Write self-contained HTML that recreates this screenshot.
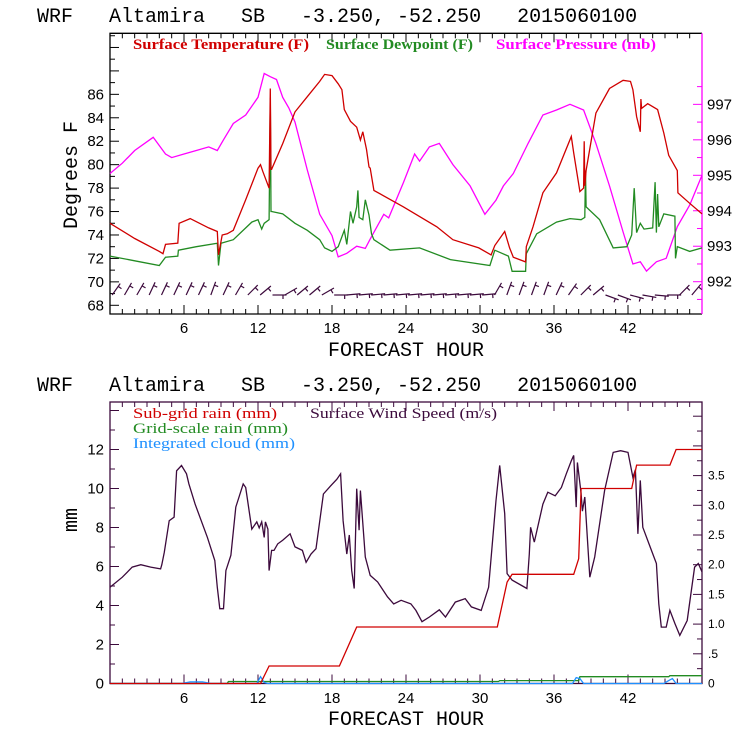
<!DOCTYPE html>
<html><head><meta charset="utf-8"><style>
html,body{margin:0;padding:0;background:#fff;}
svg{display:block;}
.t{font-family:"Liberation Mono",monospace;font-size:20px;fill:#000;}
.tk{font-family:"Liberation Sans",sans-serif;font-size:15px;fill:#000;}
.lg{font-family:"Liberation Serif",serif;font-size:15px;font-weight:bold;}
.lg2{font-family:"Liberation Serif",serif;font-size:15px;}
</style></head><body>
<svg id="chart" width="740" height="740" viewBox="0 0 740 740" xmlns="http://www.w3.org/2000/svg">
<rect width="740" height="740" fill="#fff"/>
<text class="t" x="37" y="22" xml:space="preserve">WRF   Altamira   SB   -3.250, -52.250   2015060100</text>
<text class="t" x="37" y="391" xml:space="preserve">WRF   Altamira   SB   -3.250, -52.250   2015060100</text>
<g id="topPanel"></g>
<g id="botPanel"></g>
</svg>
<script>
// ---------- top panel data ----------
const tempHours=[0,2,4,4.3,4.5,5.5,5.6,6.5,8,8.7,8.8,9.1,9.5,10,11,12,12.2,12.4,12.9,13,13.05,13.1,14,15,16,17,17.4,18,18.5,18.8,19,19.5,20,20.3,20.5,20.8,21,21.1,21.4,23.8,26.5,27.8,29.9,30.9,31.2,32,32.4,32.7,33.7,33.75,34.3,35.1,36.2,37.4,37.6,38.1,38.4,38.45,38.5,38.6,39.4,40.5,41.6,42.2,42.4,42.7,43,43.05,43.1,43.6,44.4,44.9,45.3,46,46.05,47,48];
const tempVals=[75.0,73.7,72.6,72.4,73.2,73.3,75.0,75.4,74.6,74.3,72.3,74.0,74.1,74.4,77.0,79.7,80.0,79.4,78.0,86.5,79.6,79.6,81.8,84.5,85.8,87.1,87.7,87.6,86.9,86.4,84.7,83.7,83.2,82.1,82.8,81.3,79.8,79.7,77.8,76.4,74.7,73.6,72.9,72.3,73.1,74.3,72.9,72.1,71.7,73.0,74.7,77.6,79.3,82.4,81.0,77.7,78.0,82.0,78.2,79.5,84.4,86.5,87.2,87.1,86.4,84.1,82.8,85.6,84.8,85.2,84.7,82.7,80.8,79.5,77.6,76.7,75.8];
const dewHours=[0,2,4,4.5,5.5,5.55,7,8.7,8.8,9.0,10,11.5,12,12.3,12.5,12.9,13,13.05,13.1,14,15,16,17,17.4,18,18.5,19,19.2,19.5,19.7,20,20.1,20.2,20.5,20.7,21,21.2,21.4,22.7,25.1,27.6,30.8,31.2,32.3,32.6,33.7,33.75,34.6,36.2,37.3,38.2,38.5,38.55,38.6,39.7,40.8,41.9,42.3,42.5,42.7,43,43.3,44,44.2,44.3,44.4,44.5,44.9,45.8,45.85,46,47,48];
const dewVals=[72.2,71.8,71.4,72.1,72.2,72.7,73.0,73.3,71.4,73.3,73.6,75.1,75.3,74.5,75.0,75.3,85.7,76.0,76.0,75.8,75.0,74.4,73.6,72.9,72.6,73.0,74.4,73.2,76.0,75.0,76.4,77.8,75.5,75.3,77.0,75.7,74.1,73.6,72.7,72.9,71.9,71.4,72.7,72.2,70.9,70.9,72.4,74.1,75.1,75.4,75.3,75.5,79.5,76.4,75.3,72.9,73.0,74.0,78.0,74.2,75.0,74.5,74.6,78.5,74.2,77.5,74.7,75.8,75.6,72.0,73.0,72.6,72.9];
const presHours=[0,1,2,3.5,4.5,5,6,7,8,8.7,9.2,10,11,12,12.5,13,13.5,14,14.5,15,16,17,18,18.5,19.2,20,20.7,21.1,22.2,22.6,23.8,24.7,25.1,25.9,26.7,27.8,29.2,30.4,31.3,31.9,32.7,33.9,35.1,36.2,37.3,38.4,39.4,40.5,41.6,42.4,43.0,43.5,44.3,45.1,46.0,47.0,48];
const presVals=[995.05,995.34,995.7,996.07,995.6,995.5,995.6,995.7,995.8,995.7,996.0,996.46,996.7,997.2,997.87,997.78,997.7,997.2,996.9,996.5,995.15,993.9,993.3,992.7,992.8,993.0,992.94,993.2,993.9,993.8,994.8,995.6,995.4,995.8,995.9,995.3,994.7,993.9,994.3,994.7,995.05,995.9,996.7,996.84,997.0,996.84,995.9,994.7,993.4,992.5,992.56,992.3,992.56,992.66,993.55,994.16,995.0];
const barbAngles=[55,60,60,65,65,65,65,65,70,65,60,45,40,0,30,40,40,30,0,5,5,5,5,5,5,5,5,5,5,5,5,60,70,70,70,70,65,55,45,40,-20,-20,-15,-10,-5,0,45,50];
const tempTicks=[68,70,72,74,76,78,80,82,84,86];
const presTicks=[992,993,994,995,996,997];
const hourTicks=[6,12,18,24,30,36,42];
// ---------- bottom panel data ----------
const windHours=[0,1,1.8,2.5,3.3,4.1,4.2,4.4,4.8,5.2,5.4,5.8,6.2,6.4,6.9,7.9,8.5,8.7,8.9,9.2,9.4,9.8,10.2,10.8,11.0,11.5,11.9,12.1,12.3,12.5,12.6,12.8,12.9,13.1,13.3,13.6,14.0,14.6,15.0,15.6,15.9,16.3,16.7,17.3,17.9,18.4,18.7,18.9,19.2,19.4,19.6,19.8,20.0,20.2,20.3,20.7,21.1,21.7,22.5,23.0,23.6,24.4,24.8,25.3,25.9,26.7,27.2,28.0,28.8,29.3,30.1,30.7,31.3,31.6,32.0,32.2,32.6,33.8,34.0,34.1,34.4,35.1,35.5,36.1,36.6,37.0,37.4,37.6,37.8,37.9,38.2,38.3,38.5,38.9,39.3,40.1,40.8,41.4,42.0,42.4,42.6,42.8,43.0,43.2,43.7,44.3,44.5,44.7,45.1,45.4,45.8,46.2,46.8,47.4,47.7,48];
const windVals=[1.62,1.79,1.96,2.0,1.96,1.93,2.0,2.21,2.74,2.80,3.58,3.67,3.53,3.36,3.02,2.46,2.07,1.62,1.26,1.26,1.9,2.16,2.97,3.36,3.30,2.60,2.72,2.62,2.72,2.46,2.72,2.60,1.9,2.24,2.24,2.35,2.41,2.52,2.30,2.24,2.04,2.18,2.27,3.19,3.33,3.44,3.53,2.74,2.18,2.5,1.9,1.6,3.28,2.58,3.25,2.13,1.82,1.71,1.46,1.34,1.40,1.34,1.23,1.04,1.12,1.24,1.12,1.37,1.43,1.29,1.23,1.62,3.08,3.67,2.86,1.85,1.74,1.6,2.18,2.63,2.38,3.02,3.22,3.16,3.30,3.53,3.75,3.84,2.97,3.72,3.2,2.9,3.14,1.79,2.13,3.25,3.89,3.92,3.89,3.47,3.6,2.52,3.42,2.63,2.35,2.02,1.34,0.95,0.95,1.23,1.01,0.81,1.06,1.96,2.02,1.88];
const subHours=[0,12.2,12.9,18.6,20.0,31.4,32.2,32.6,37.6,38.0,38.2,42.3,42.7,45.4,45.9,48];
const subVals=[0,0,0.9,0.9,2.9,2.9,5.2,5.6,5.6,6.4,10.0,10.0,11.2,11.2,12.0,12.0];
const gridHours=[0,9.5,9.6,31.5,31.6,38.0,38.1,45.3,45.4,48];
const gridVals=[0,0,0.1,0.1,0.15,0.15,0.35,0.35,0.4,0.4];
const cloudHours=[0,5.8,6.5,7.5,8.2,9,11.9,12.2,12.5,12.8,37.5,37.8,38.1,38.4,44.9,45.3,45.6,45.9,48];
const cloudVals=[0,0,0.08,0.08,0,0,0,0.35,0.05,0,0,0.3,0.25,0,0,0.15,0.25,0,0];
const mmTicks=[0,2,4,6,8,10,12];
const windTicks=[0,0.5,1.0,1.5,2.0,2.5,3.0,3.5];
const windTickLabels=["0",".5","1.0","1.5","2.0","2.5","3.0","3.5"];

const NS="http://www.w3.org/2000/svg";
function mk(parent,tag,attrs){const e=document.createElementNS(NS,tag);for(const k in attrs)e.setAttribute(k,attrs[k]);parent.appendChild(e);return e;}
const X0=110,X1=702;
const xs=h=>X0+h*(X1-X0)/48;

const topG=document.getElementById('topPanel');
const T_Y0=33.3,T_Y1=314;
const yT=t=>305.3-(t-68)*11.72;
const yP=p=>281.7-(p-992)*35.47;
function poly(g,hs,vs,fx,fy,col,name){
  const pts=hs.map((h,i)=>fx(h).toFixed(1)+','+fy(vs[i]).toFixed(1)).join(' ');
  const e=mk(g,'polyline',{points:pts,fill:'none',stroke:col,'stroke-width':1.3});
  
  
  return e;
}
let fr=mk(topG,'path',{d:`M${X1},${T_Y0}H${X0}V${T_Y1}H${X1}`,fill:'none',stroke:'#000','stroke-width':1.3});


let ra=mk(topG,'line',{x1:X1,y1:T_Y0,x2:X1,y2:T_Y1,stroke:'#ff00ff','stroke-width':1.3});


for(let h=1;h<48;h++){const x=xs(h),L=h%6===0?9:5;
  mk(topG,'line',{x1:x,y1:T_Y1,x2:x,y2:T_Y1-L,stroke:'#000'});
  mk(topG,'line',{x1:x,y1:T_Y0,x2:x,y2:T_Y0+L,stroke:'#000'});}
hourTicks.forEach(h=>{const t=mk(topG,'text',{x:xs(h),y:333,'text-anchor':'middle',class:'tk'});t.textContent=h;
  
  });
for(let v=68;v<=91;v++){const y=yT(v),L=v%2===0?9:5;mk(topG,'line',{x1:X0,y1:y,x2:X0+L,y2:y,stroke:'#000'});}
tempTicks.forEach(v=>{const t=mk(topG,'text',{x:104,y:yT(v)+5,'text-anchor':'end',class:'tk'});t.textContent=v;
  
  });
for(let v=991.5;v<=997.9;v+=0.5){const y=yP(v),L=Math.abs(v%1)<0.01?9:5;mk(topG,'line',{x1:X1,y1:y,x2:X1-L,y2:y,stroke:'#ff00ff'});}
presTicks.forEach(v=>{const t=mk(topG,'text',{x:707,y:yP(v)+5,class:'tk'});t.textContent=v;
  
  });
let yt=mk(topG,'text',{x:0,y:0,class:'t',transform:'translate(77,175) rotate(-90)','text-anchor':'middle'});yt.textContent='Degrees F';


let xt=mk(topG,'text',{x:406,y:356,class:'t','text-anchor':'middle'});xt.textContent='FORECAST HOUR';


[['Surface Temperature (F)',133,176,'#d00000','legend-temperature'],['Surface Dewpoint (F)',326,147,'#228b22','legend-dewpoint'],['Surface Pressure (mb)',496,160,'#ff00ff','legend-pressure']].forEach(a=>{
  const t=mk(topG,'text',{x:a[1],y:49,class:'lg',fill:a[3],textLength:a[2],lengthAdjust:'spacingAndGlyphs'});t.textContent=a[0];
  
  });
poly(topG,presHours,presVals,xs,yP,'#ff00ff','pressure-line');
poly(topG,dewHours,dewVals,xs,yT,'#228b22','dewpoint-line');
poly(topG,tempHours,tempVals,xs,yT,'#d00000','temperature-line');
barbAngles.forEach((a,i)=>{
  const x=xs(i+0.5)-4,y=295,r=a*Math.PI/180,L=14;
  const x2=x+L*Math.cos(r),y2=y-L*Math.sin(r);
  const g=mk(topG,'g',{stroke:'#3c0a3c','stroke-width':1.2});
  
  
  mk(g,'line',{x1:x,y1:y,x2:x2,y2:y2});
  const bx=x+0.75*L*Math.cos(r),by=y-0.75*L*Math.sin(r);
  mk(g,'line',{x1:bx,y1:by,x2:bx+4*Math.sin(r),y2:by+4*Math.cos(r)});
});

const botG=document.getElementById('botPanel');
const B_Y0=402,B_Y1=683.5;
const yM=m=>B_Y1-m*19.5;
const yW=w=>B_Y1-w*59.4;
fr=mk(botG,'rect',{x:X0,y:B_Y0,width:X1-X0,height:B_Y1-B_Y0,fill:'none',stroke:'#3c0a3c','stroke-width':1.3});


for(let h=1;h<48;h++){const x=xs(h),L=h%6===0?9:5;
  mk(botG,'line',{x1:x,y1:B_Y1,x2:x,y2:B_Y1-L,stroke:'#3c0a3c'});
  mk(botG,'line',{x1:x,y1:B_Y0,x2:x,y2:B_Y0+L,stroke:'#3c0a3c'});}
hourTicks.forEach(h=>{const t=mk(botG,'text',{x:xs(h),y:703,'text-anchor':'middle',class:'tk'});t.textContent=h;
  
  });
for(let v=1;v<=14;v++){const y=yM(v),L=v%2===0?9:5;mk(botG,'line',{x1:X0,y1:y,x2:X0+L,y2:y,stroke:'#3c0a3c'});}
mmTicks.forEach(v=>{const t=mk(botG,'text',{x:104,y:yM(v)+5,'text-anchor':'end',class:'tk'});t.textContent=v;
  
  });
for(let v=0.25;v<=4.6;v+=0.25){const y=yW(v),L=Math.abs((v*2)%1)<0.01?9:5;mk(botG,'line',{x1:X1,y1:y,x2:X1-L,y2:y,stroke:'#3c0a3c'});}
windTicks.forEach((v,i)=>{const t=mk(botG,'text',{x:708,y:yW(v)+4,class:'tk',style:'font-size:12px'});t.textContent=windTickLabels[i];
  
  });
yt=mk(botG,'text',{x:0,y:0,class:'t',transform:'translate(77,520) rotate(-90)','text-anchor':'middle'});yt.textContent='mm';


xt=mk(botG,'text',{x:406,y:725,class:'t','text-anchor':'middle'});xt.textContent='FORECAST HOUR';


[['Sub-grid rain (mm)',133,418,144,'#d00000','legend-subgrid-rain'],['Surface Wind Speed (m/s)',310,418,187,'#3c0a3c','legend-wind-speed'],['Grid-scale rain (mm)',133,433,155,'#228b22','legend-grid-rain'],['Integrated cloud (mm)',133,448,162,'#1e90ff','legend-cloud']].forEach(a=>{
  const t=mk(botG,'text',{x:a[1],y:a[2],class:'lg2',fill:a[4],textLength:a[3],lengthAdjust:'spacingAndGlyphs'});t.textContent=a[0];
  
  });
poly(botG,windHours,windVals,xs,yW,'#3c0a3c','wind-speed-line');
poly(botG,gridHours,gridVals,xs,yM,'#228b22','grid-rain-line');
poly(botG,cloudHours,cloudVals,xs,yM,'#1e90ff','cloud-line');
poly(botG,subHours,subVals,xs,yM,'#d00000','subgrid-rain-line');
</script>
</body></html>
